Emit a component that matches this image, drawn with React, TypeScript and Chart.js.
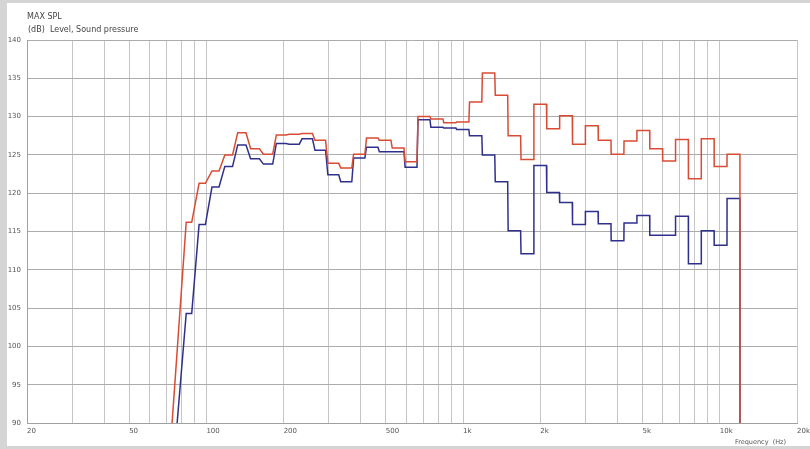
import { useEffect, useRef } from 'react';
import { Chart, registerables } from 'chart.js';

Chart.register(...registerables);

// ---- Data ----
const TITLE = 'MAX SPL';
const SUBTITLE = '(dB)  Level, Sound pressure';
const X_TITLE = 'Frequency  (Hz)';

// 1/6-octave band centre frequencies (Hz)
const BAND_HZ = [
  88.39, 99.21, 111.36, 125, 140.31, 157.49, 176.78, 198.43, 222.72, 250,
  280.62, 314.98, 353.55, 396.85, 445.45, 500, 561.23, 629.96, 707.11, 793.7,
  890.9, 1000, 1122.46, 1259.92, 1414.21, 1587.4, 1781.8, 2000, 2244.92, 2519.84,
  2828.43, 3174.8, 3563.59, 4000, 4489.85, 5039.68, 5656.85, 6349.6, 7127.19, 8000,
  8979.7, 10079.37, 11313.71,
];

// Red curve (dB)
const RED_DB = [
  116.2, 121.3, 122.9, 125.0, 127.9, 125.8, 125.1, 127.6, 127.7, 127.8,
  126.9, 123.9, 123.3, 125.1, 127.2, 126.9, 125.9, 124.1, 130.0, 129.7,
  129.2, 129.3, 131.9, 135.7, 132.8, 127.5, 124.4, 131.6, 128.4, 130.1,
  126.4, 128.8, 126.9, 125.1, 126.8, 128.2, 125.8, 124.2, 127.0, 121.9,
  127.1, 123.5, 125.1,
];

// Blue curve (dB)
const BLUE_DB = [
  104.3, 115.9, 120.8, 123.5, 126.3, 124.5, 123.8, 126.5, 126.4, 127.1,
  125.6, 122.4, 121.5, 124.6, 126.0, 125.4, 125.4, 123.4, 129.6, 128.6,
  128.5, 128.3, 127.5, 125.0, 121.5, 115.1, 112.1, 123.6, 120.1, 118.8,
  115.9, 117.6, 116.0, 113.8, 116.1, 117.1, 114.5, 114.5, 117.0, 110.8,
  115.1, 113.2, 119.3,
];

// Where each curve leaves the bottom of the plot on the low side
const RED_START = { hz: 73.5, db: 90 };
const BLUE_START = { hz: 76.9, db: 90 };
const END_DB = 90;
// frequency resolution of the measurement: width of each step's riser (Hz)
const RISE_HZ = 6;

// Axis
const X_MIN = 20;
const X_MAX = 20000;
const Y_MIN = 90;
const Y_MAX = 140;
const Y_STEP = 5;
const GRID_HZ = [
  20, 30, 40, 50, 60, 70, 80, 90, 100, 200, 300, 400, 500, 600, 700, 800, 900,
  1000, 2000, 3000, 4000, 5000, 6000, 7000, 8000, 9000, 10000, 20000,
];
const LABEL_HZ = [20, 50, 100, 200, 500, 1000, 2000, 5000, 10000, 20000];
const LABEL_TEXT = ['20', '50', '100', '200', '500', '1k', '2k', '5k', '10k', '20k'];

function buildSteps(start: { hz: number; db: number }, centers: number[], values: number[], endDb: number) {
  const half = Math.pow(2, 1 / 12);
  const pts: { x: number; y: number }[] = [{ x: start.hz, y: start.db }];
  centers.forEach((c, i) => {
    const lo = c / half;
    const hi = c * half;
    pts.push({ x: lo, y: values[i] });
    const last = i === centers.length - 1;
    pts.push({ x: last ? hi : Math.max(lo, hi - RISE_HZ), y: values[i] });
  });
  pts.push({ x: centers[centers.length - 1] * half, y: endDb });
  return pts;
}

const FONT = '"DejaVu Sans", Verdana, sans-serif';

const textPlugin = {
  id: 'headerText',
  afterDraw(chart: any) {
    const { ctx, chartArea } = chart;
    ctx.save();
    ctx.fillStyle = '#444';
    ctx.textBaseline = 'middle';
    ctx.textAlign = 'left';
    ctx.font = `8px ${FONT}`;
    ctx.fillText(TITLE, chartArea.left, 13.5);
    ctx.fillText(SUBTITLE, chartArea.left + 1, 26.5);
    ctx.textAlign = 'right';
    ctx.font = `6.5px ${FONT}`;
    ctx.fillStyle = '#555';
    ctx.fillText(X_TITLE, chartArea.right - 11, 439);
    ctx.restore();
  },
};

export default function App() {
  const ref = useRef<HTMLCanvasElement | null>(null);

  useEffect(() => {
    if (!ref.current) return;
    const chart = new Chart(ref.current, {
      type: 'line',
      data: {
        datasets: [
          {
            label: 'red',
            data: buildSteps(RED_START, BAND_HZ, RED_DB, END_DB),
            borderColor: 'rgb(216, 76, 52)',
            borderWidth: 1.5,
            pointRadius: 0,
            tension: 0,
            fill: false,
          },
          {
            label: 'blue',
            data: buildSteps(BLUE_START, BAND_HZ, BLUE_DB, END_DB),
            borderColor: 'rgb(46, 48, 140)',
            borderWidth: 1.5,
            pointRadius: 0,
            tension: 0,
            fill: false,
          },
        ],
      },
      options: {
        animation: false,
        responsive: false,
        devicePixelRatio: 1,
        layout: { padding: { top: 37, right: 13, left: 0, bottom: 0 } },
        plugins: {
          legend: { display: false },
          tooltip: { enabled: false },
          title: { display: false },
        },
        scales: {
          x: {
            type: 'logarithmic',
            min: X_MIN,
            max: X_MAX,
            afterBuildTicks: (s: any) => {
              s.ticks = GRID_HZ.map((v) => ({ value: v }));
            },
            afterFit: (s: any) => {
              s.height = 23;
              s.paddingLeft = 0;
              s.paddingRight = 0;
            },
            grid: { color: 'rgb(198,198,198)', lineWidth: 1, drawTicks: false },
            border: { display: true, color: 'rgb(160,160,160)' },
            ticks: {
              autoSkip: false,
              maxRotation: 0,
              minRotation: 0,
              align: 'start',
              padding: 4,
              color: '#555',
              font: { family: FONT, size: 7 },
              callback: (v: any) => {
                const i = LABEL_HZ.indexOf(Number(v));
                return i >= 0 ? LABEL_TEXT[i] : '';
              },
            },
          },
          y: {
            type: 'linear',
            min: Y_MIN,
            max: Y_MAX,
            afterFit: (s: any) => {
              s.width = 20;
              s.paddingTop = 0;
              s.paddingBottom = 0;
            },
            grid: { color: 'rgb(172,172,172)', lineWidth: 1, drawTicks: false },
            border: { display: true, color: 'rgb(160,160,160)' },
            ticks: {
              stepSize: Y_STEP,
              padding: 6,
              color: '#555',
              font: { family: FONT, size: 7 },
            },
          },
        },
      },
      plugins: [textPlugin],
    } as any);
    return () => chart.destroy();
  }, []);

  return (
    <div style={{ position: 'fixed', inset: 0, background: '#d5d5d5' }}>
      <div
        style={{
          position: 'absolute',
          left: 7,
          top: 3,
          width: 803,
          height: 443,
          background: '#ffffff',
        }}
      >
        <canvas ref={ref} width={803} height={443} style={{ display: 'block', width: 803, height: 443 }} />
      </div>
    </div>
  );
}
